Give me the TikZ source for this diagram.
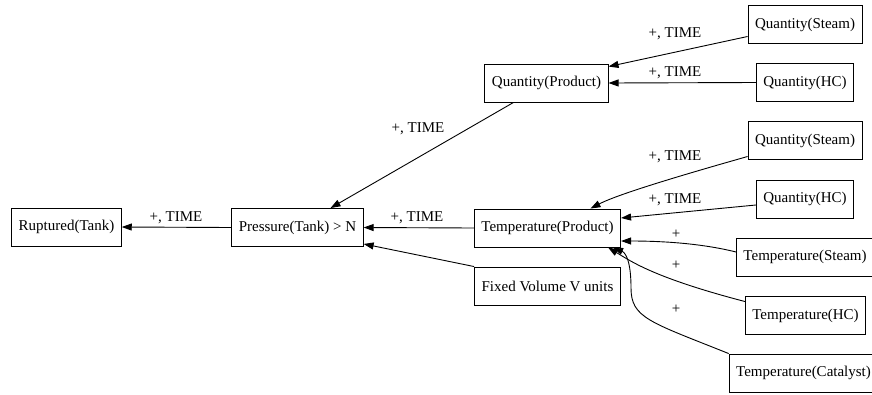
\documentclass[tikz,border=0pt]{standalone}
\usepackage{fontspec}
\setmainfont{Liberation Serif}
\usetikzlibrary{arrows.meta}
\begin{document}
\begin{tikzpicture}[x=1pt,y=-1pt,
  box/.style={draw, line width=0.9pt, inner xsep=7pt, inner ysep=0pt,
              minimum height=38pt, font=\fontsize{15}{18}\selectfont},
  lbl/.style={inner sep=0pt, font=\fontsize{15}{18}\selectfont},
  edge/.style={line width=0.9pt, -{Triangle[length=10pt,width=7pt]}}]
\useasboundingbox (0,0) rectangle (872,394);

% nodes
\node[box] (rupt)  at (66.5,227)  {Ruptured(Tank)};
\node[box] (press) at (297.5,227.5) {Pressure(Tank) > N};
\node[box] (tprod) at (547.5,228) {Temperature(Product)};
\node[box] (fixed) at (547.5,286) {Fixed Volume V units};
\node[box] (qprod) at (546.5,83)  {Quantity(Product)};
\node[box] (qs1)   at (805,24.5)  {Quantity(Steam)};
\node[box] (qh1)   at (805,82.5)  {Quantity(HC)};
\node[box] (qs2)   at (805,140.5) {Quantity(Steam)};
\node[box] (qh2)   at (805,199)   {Quantity(HC)};
\node[box] (ts)    at (805,257)   {Temperature(Steam)};
\node[box] (th)    at (805.5,315.5) {Temperature(HC)};
\node[box] (tc)    at (803.5,373) {Temperature(Catalyst)};

% connectors
\draw[edge] (press.west) -- (rupt.east);
\draw[edge] (tprod.west) -- (press.east);
\draw[edge] (fixed.north west) -- ([yshift=3pt]press.south east);
\draw[edge] ([xshift=-33pt]qprod.south) -- ([xshift=33pt]press.north);
\draw[edge] ([yshift=-12pt]qs1.west) -- ([yshift=-3pt]qprod.north east);
\draw[edge] (qh1.west) -- (qprod.east);
\draw[edge] ([yshift=-16pt]qs2.west) .. controls (700,170) and (620,193) .. ([xshift=43pt]tprod.north);
\draw[edge] ([yshift=-6pt]qh2.west) -- ([yshift=10pt]tprod.east);
\draw[edge] ([yshift=5pt]ts.west) .. controls (700,243) and (660,241) .. ([yshift=-13pt]tprod.east);
\draw[edge] ([yshift=14pt]th.west) .. controls (655,278) and (632,262) .. ([xshift=-13pt]tprod.south east);
\draw[edge] (tc.north west) .. controls (650,322) and (631,318) .. (631,288)
            .. controls (631,262) and (626,253) .. ([xshift=-8pt]tprod.south east);

% connector labels
\node[lbl] (l1)  at (176,218) {+, TIME};
\node[lbl] (l2)  at (417,218) {+, TIME};
\node[lbl] (l3)  at (418,129) {+, TIME};
\node[lbl] (l4)  at (675,34)  {+, TIME};
\node[lbl] (l5)  at (675,73)  {+, TIME};
\node[lbl] (l6)  at (675,157) {+, TIME};
\node[lbl] (l7)  at (675,200) {+, TIME};
\node[lbl] (l8)  at (676,234) {+};
\node[lbl] (l9)  at (676,265) {+};
\node[lbl] (l10) at (676,309) {+};
\end{tikzpicture}
\end{document}
